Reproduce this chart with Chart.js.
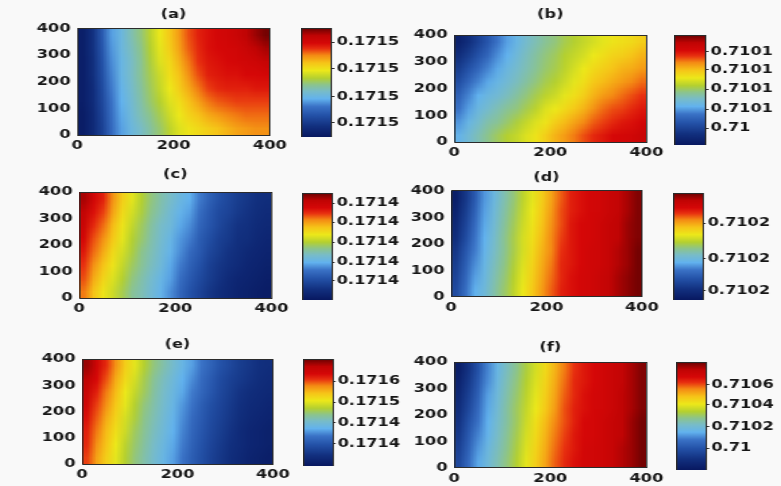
<!DOCTYPE html>
<html>
<head>
<meta charset="utf-8">
<script src="https://cdn.jsdelivr.net/npm/chart.js@4.4.1/dist/chart.umd.min.js"></script>
<style>
  html, body { margin: 0; padding: 0; background: #f9f9f9; }
  #fig { position: relative; width: 781px; height: 486px; overflow: hidden; }
  #fig canvas { position: absolute; }
</style>
</head>
<body>
<div id="fig"></div>
<script>
// cell grid shared by all six panels (x: 0..400, y: 0..400)
const xCenters = [10, 30, 50, 70, 90, 110, 130, 150, 170, 190, 210, 230, 250, 270, 290, 310, 330, 350, 370, 390];
const yEdges = [400, 350, 300, 250, 200, 150, 100, 50, 0];   // rows listed top to bottom

// colour level of each cell in % of the colour bar, rows top -> bottom
const fieldA = [
  [3, 10, 22, 33, 38, 44, 49, 55, 61, 67, 73, 79, 83, 85, 87, 88, 90, 93, 96, 99],
  [3, 10, 21, 32, 38, 43, 48, 54, 60, 66, 72, 78, 82, 85, 86, 87, 88, 90, 93, 95],
  [3, 9, 20, 31, 37, 42, 47, 53, 59, 64, 70, 76, 81, 84, 85, 86, 87, 88, 89, 91],
  [3, 9, 19, 30, 37, 42, 47, 52, 57, 63, 68, 74, 79, 83, 84, 85, 85, 86, 86, 87],
  [3, 8, 18, 29, 36, 41, 46, 51, 56, 61, 66, 71, 76, 80, 82, 83, 83, 83, 84, 84],
  [3, 8, 17, 28, 35, 40, 45, 50, 54, 59, 63, 68, 72, 76, 78, 79, 80, 80, 80, 80],
  [2, 7, 16, 27, 34, 39, 44, 48, 52, 57, 61, 65, 68, 71, 73, 75, 76, 77, 77, 77],
  [2, 7, 15, 26, 33, 38, 42, 46, 50, 55, 59, 62, 64, 66, 68, 70, 72, 73, 74, 74]
];
const fieldB = [
  [4, 9, 15, 21, 28, 33, 37, 41, 44, 47, 49, 52, 54, 56, 58, 60, 62, 63, 64, 66],
  [9, 14, 20, 25, 31, 35, 39, 43, 46, 49, 51, 54, 56, 58, 61, 63, 65, 66, 68, 70],
  [14, 20, 25, 30, 34, 38, 41, 44, 47, 50, 52, 55, 58, 61, 64, 66, 68, 70, 71, 73],
  [19, 25, 30, 34, 37, 40, 43, 46, 49, 52, 54, 57, 60, 63, 67, 69, 71, 73, 75, 77],
  [24, 30, 35, 38, 40, 43, 46, 49, 52, 55, 57, 60, 63, 66, 70, 73, 75, 77, 79, 81],
  [28, 33, 38, 41, 44, 47, 49, 52, 55, 59, 61, 64, 67, 70, 74, 77, 79, 80, 82, 84],
  [32, 37, 41, 45, 47, 50, 53, 56, 59, 62, 66, 69, 72, 75, 78, 80, 82, 84, 85, 87],
  [36, 40, 44, 48, 51, 54, 56, 59, 62, 66, 70, 73, 76, 79, 82, 84, 86, 87, 88, 90]
];
const fieldC = [
  [95, 88, 83, 74, 66, 60, 54, 49, 45, 42, 38, 35, 29, 24, 20, 17, 14, 12, 10, 9],
  [92, 85, 80, 72, 64, 58, 53, 48, 44, 40, 36, 33, 27, 22, 18, 16, 13, 11, 9, 8],
  [90, 82, 77, 69, 62, 56, 51, 46, 42, 39, 34, 31, 25, 21, 17, 14, 11, 10, 8, 7],
  [87, 79, 74, 67, 60, 54, 50, 45, 41, 37, 32, 29, 23, 19, 15, 13, 10, 9, 7, 6],
  [84, 77, 71, 64, 58, 53, 48, 44, 40, 36, 31, 26, 22, 17, 14, 11, 9, 7, 6, 5],
  [81, 74, 68, 62, 56, 51, 47, 43, 39, 34, 29, 24, 20, 15, 12, 10, 8, 6, 5, 4],
  [79, 71, 65, 59, 54, 49, 45, 41, 37, 33, 27, 22, 18, 14, 11, 8, 6, 5, 4, 3],
  [76, 68, 62, 57, 52, 47, 44, 40, 36, 31, 25, 20, 16, 12, 9, 7, 5, 4, 3, 2]
];
const fieldD = [
  [3, 12, 22, 32, 38, 44, 49, 55, 60, 66, 72, 78, 83, 85, 87, 88, 90, 92, 95, 98],
  [5, 14, 24, 33, 39, 45, 50, 56, 61, 67, 73, 79, 83, 85, 87, 88, 90, 92, 95, 98],
  [7, 16, 26, 34, 40, 46, 51, 57, 62, 68, 74, 79, 84, 86, 87, 89, 91, 93, 96, 98],
  [9, 18, 28, 35, 41, 47, 52, 58, 63, 69, 75, 80, 84, 86, 87, 89, 91, 93, 96, 98],
  [12, 21, 29, 36, 42, 47, 52, 58, 64, 70, 75, 81, 84, 86, 88, 89, 91, 94, 96, 99],
  [14, 23, 31, 37, 43, 48, 53, 59, 65, 71, 76, 82, 84, 86, 88, 89, 91, 94, 96, 99],
  [16, 25, 33, 38, 44, 49, 54, 60, 66, 72, 77, 82, 85, 87, 88, 90, 92, 95, 97, 99],
  [18, 27, 35, 39, 45, 50, 55, 61, 67, 73, 78, 83, 85, 87, 88, 90, 92, 95, 97, 99]
];
const fieldE = [
  [96, 89, 82, 74, 66, 60, 54, 49, 45, 41, 37, 33, 28, 24, 20, 17, 14, 12, 10, 9],
  [93, 86, 79, 71, 64, 58, 52, 47, 43, 39, 35, 31, 26, 22, 18, 15, 13, 11, 9, 8],
  [90, 83, 76, 69, 61, 56, 51, 46, 42, 38, 34, 29, 25, 21, 17, 14, 11, 9, 8, 7],
  [88, 80, 74, 67, 60, 54, 49, 45, 41, 37, 32, 28, 23, 19, 16, 13, 10, 8, 7, 6],
  [85, 78, 71, 65, 58, 53, 48, 44, 40, 36, 31, 26, 22, 18, 15, 12, 9, 7, 6, 5],
  [83, 76, 69, 63, 57, 51, 47, 43, 39, 35, 30, 25, 21, 17, 14, 11, 8, 6, 5, 4],
  [82, 74, 68, 61, 55, 50, 46, 42, 38, 34, 29, 24, 20, 16, 13, 10, 8, 6, 5, 4],
  [80, 72, 66, 60, 54, 49, 45, 41, 37, 33, 28, 23, 19, 15, 12, 9, 7, 5, 4, 3]
];
const fieldF = [
  [3, 11, 20, 30, 37, 43, 48, 53, 58, 64, 70, 76, 81, 84, 86, 88, 90, 92, 95, 98],
  [5, 13, 22, 31, 38, 44, 49, 54, 59, 65, 71, 77, 82, 84, 86, 88, 90, 92, 95, 98],
  [7, 15, 24, 33, 39, 45, 50, 55, 60, 66, 72, 78, 82, 85, 87, 88, 90, 93, 95, 98],
  [9, 17, 26, 34, 40, 46, 51, 56, 61, 67, 73, 79, 83, 85, 87, 88, 90, 93, 95, 98],
  [11, 20, 28, 35, 41, 46, 51, 57, 63, 69, 75, 79, 83, 86, 87, 89, 91, 93, 96, 99],
  [13, 22, 30, 36, 42, 47, 52, 58, 64, 70, 76, 80, 84, 86, 87, 89, 91, 93, 96, 99],
  [15, 24, 32, 38, 43, 48, 53, 59, 65, 71, 77, 81, 84, 87, 88, 89, 91, 94, 96, 99],
  [17, 26, 34, 39, 44, 49, 54, 60, 66, 72, 78, 82, 85, 87, 88, 89, 91, 94, 96, 99]
];

const panelTitles = ['(a)', '(b)', '(c)', '(d)', '(e)', '(f)'];
const xTicks = [0, 200, 400];
const yTicks = [0, 100, 200, 300, 400];

// colour bar ticks: position along the bar (0 bottom, 1 top) and label
const cbTicksA = [0.869, 0.624, 0.37, 0.131];
const cbLabelsA = ['0.1715', '0.1715', '0.1715', '0.1715'];
const cbTicksB = [0.848, 0.682, 0.506, 0.325, 0.152];
const cbLabelsB = ['0.7101', '0.7101', '0.7101', '0.7101', '0.71'];
const cbTicksC = [0.906, 0.728, 0.54, 0.353, 0.181];
const cbLabelsC = ['0.1714', '0.1714', '0.1714', '0.1714', '0.1714'];
const cbTicksD = [0.719, 0.385, 0.088];
const cbLabelsD = ['0.7102', '0.7102', '0.7102'];
const cbTicksE = [0.794, 0.598, 0.402, 0.206];
const cbLabelsE = ['0.1716', '0.1715', '0.1714', '0.1714'];
const cbTicksF = [0.789, 0.604, 0.403, 0.201];
const cbLabelsF = ['0.7106', '0.7104', '0.7102', '0.71'];

// ---- styling / layout ----
const jetStops = [
  [0.00, '#081860'], [0.10, '#12307f'], [0.20, '#2452a8'], [0.28, '#3a72c6'],
  [0.35, '#62b2ee'], [0.42, '#78bcc8'], [0.48, '#8cc48c'], [0.54, '#b4d030'],
  [0.61, '#ece81a'], [0.68, '#f6c418'], [0.75, '#f48a14'], [0.81, '#e83010'],
  [0.86, '#d60808'], [0.93, '#c00404'], [1.00, '#680202']
];

const panelBoxes = [
  { plot: [77.5, 28.3, 270, 135], titleY: 15, cbar: [300.5, 28, 331.5, 137] },
  { plot: [454, 35, 646, 142], titleY: 15, cbar: [673.5, 35, 705.7, 145] },
  { plot: [79, 192, 271, 298], titleY: 175, cbar: [301.7, 192.7, 331.7, 299.3] },
  { plot: [451, 191, 642, 297], titleY: 178.3, cbar: [672.7, 192.7, 702.7, 299.3] },
  { plot: [82, 359, 273, 464], titleY: 345, cbar: [302.7, 359, 332.7, 466] },
  { plot: [454, 362.3, 646, 468], titleY: 348.3, cbar: [676, 362.3, 706.7, 470] }
];

const S = 1.35;          // the source figure is stretched horizontally
const FONT = 'DejaVu Sans';
const TEXT = '#161616';
const FRAME = '#2b2b2b';
const tickFont = { family: FONT, size: 12, weight: 'bold' };
const titleFont = { family: FONT, size: 12, weight: 'bold', lineHeight: 1.2 };

function hexRgb(h) {
  return [parseInt(h.slice(1, 3), 16), parseInt(h.slice(3, 5), 16), parseInt(h.slice(5, 7), 16)];
}

function cmap(t) {
  t = Math.max(0, Math.min(1, t));
  for (let i = 1; i < jetStops.length; i++) {
    if (t <= jetStops[i][0]) {
      const [p0, c0] = jetStops[i - 1];
      const [p1, c1] = jetStops[i];
      const f = (t - p0) / (p1 - p0);
      const a = hexRgb(c0), b = hexRgb(c1);
      const rgb = a.map((v, k) => Math.round(v + (b[k] - v) * f));
      return `rgb(${rgb[0]},${rgb[1]},${rgb[2]})`;
    }
  }
  return jetStops[jetStops.length - 1][1];
}

// canvas whose bitmap is w x h, shown at cssW x cssH
function addCanvas(left, top, w, h, cssW, cssH) {
  const c = document.createElement('canvas');
  c.width = w;
  c.height = h;
  c.style.left = left + 'px';
  c.style.top = top + 'px';
  c.style.width = cssW + 'px';
  c.style.height = cssH + 'px';
  document.getElementById('fig').appendChild(c);
  return c;
}

const frameBorder = { display: true, color: FRAME, width: 1, z: 1 };
const hiddenAxis = (position, fit) => ({
  type: 'linear', position: position, display: true,
  ticks: { display: false }, grid: { display: false, drawTicks: false },
  border: frameBorder, afterFit: fit
});

// the cells: one bitmap pixel per cell, smoothed by the browser when shown at plot size
function drawCells(box, field) {
  const [pl, pt, pr, pb] = box.plot;
  const canvas = addCanvas(pl, pt, xCenters.length, field.length, pr - pl, pb - pt);
  new Chart(canvas, {
    type: 'bar',
    data: {
      datasets: field.map((row, r) => ({
        data: row.map((v, c) => ({ x: xCenters[c], y: [yEdges[r + 1], yEdges[r]] })),
        backgroundColor: row.map(v => cmap(v / 100)),
        borderWidth: 0,
        inflateAmount: 0,
        grouped: false,
        barPercentage: 1,
        categoryPercentage: 1
      }))
    },
    options: {
      responsive: false,
      animation: false,
      events: [],
      layout: { padding: 0 },
      plugins: { legend: { display: false }, tooltip: { enabled: false }, title: { display: false } },
      scales: {
        x: { type: 'linear', min: 0, max: 400, offset: false, display: false },
        y: { type: 'linear', min: 0, max: 400, display: false }
      }
    }
  });
}

// axes, tick labels, frame and panel title on top of the cells
function drawAxes(box, title) {
  const YW = 32, TP = 2;
  const [pl, pt, pr, pb] = box.plot;
  const plotWv = (pr - pl) / S;
  const W = Math.ceil(YW + plotWv + 16);
  const PR = W - YW - plotWv;
  const lh = titleFont.size * titleFont.lineHeight;
  const top = box.titleY - TP - lh / 2;
  const TB = pt - box.titleY - lh / 2;
  const H = Math.ceil(pb - top + 22);
  const XH = H - (pb - top);
  const canvas = addCanvas(pl - YW * S, top, W, H, W * S, H);

  new Chart(canvas, {
    type: 'scatter',
    data: { datasets: [] },
    options: {
      responsive: false,
      animation: false,
      events: [],
      layout: { padding: { left: 0, top: 0, right: PR, bottom: 0 } },
      plugins: {
        legend: { display: false },
        tooltip: { enabled: false },
        title: {
          display: true, text: title, fullSize: false, color: TEXT,
          font: titleFont, padding: { top: TP, bottom: TB }
        }
      },
      scales: {
        x: {
          type: 'linear', min: 0, max: 400,
          afterBuildTicks: s => { s.ticks = xTicks.map(v => ({ value: v })); },
          ticks: { color: TEXT, font: tickFont, padding: 3.5, maxRotation: 0, autoSkip: false },
          grid: { display: false, drawTicks: false },
          border: frameBorder,
          afterFit: s => { s.height = XH; s.paddingLeft = 0; s.paddingRight = 0; }
        },
        y: {
          type: 'linear', min: 0, max: 400,
          afterBuildTicks: s => { s.ticks = yTicks.map(v => ({ value: v })); },
          ticks: { color: TEXT, font: tickFont, padding: 5, autoSkip: false },
          grid: { display: false, drawTicks: false },
          border: frameBorder,
          afterFit: s => { s.width = YW; s.paddingTop = 0; s.paddingBottom = 0; }
        },
        xTop: hiddenAxis('top', s => { s.height = 0; }),
        yRight: hiddenAxis('right', s => { s.width = 0; })
      }
    }
  });
}

function drawColorbar(box, ticks, labels) {
  const [cl, ct, cr, cb] = box.cbar;
  const barWv = (cr - cl) / S;
  const W = Math.ceil(barWv + 52);
  const AW = W - barWv;
  const H = Math.round(cb - ct);
  const canvas = addCanvas(cl, ct, W, H, W * S, H);

  new Chart(canvas, {
    type: 'bar',
    data: {
      labels: ['cb'],
      datasets: [{
        data: [[0, 1]],
        borderWidth: 0,
        barPercentage: 1,
        categoryPercentage: 1,
        backgroundColor: (ctx) => {
          const area = ctx.chart.chartArea;
          if (!area) return '#888';
          const g = ctx.chart.ctx.createLinearGradient(0, area.bottom, 0, area.top);
          jetStops.forEach(([p, c]) => g.addColorStop(p, c));
          return g;
        }
      }]
    },
    options: {
      responsive: false,
      animation: false,
      events: [],
      layout: { padding: 0 },
      plugins: { legend: { display: false }, tooltip: { enabled: false }, title: { display: false } },
      scales: {
        x: {
          type: 'category', display: true,
          ticks: { display: false }, grid: { display: false, drawTicks: false },
          border: frameBorder,
          afterFit: s => { s.height = 0; }
        },
        y: {
          type: 'linear', position: 'right', min: 0, max: 1,
          afterBuildTicks: s => { s.ticks = ticks.map(v => ({ value: v })); },
          ticks: {
            color: TEXT, font: tickFont, padding: 1.5, autoSkip: false,
            callback: (v, i) => labels[i]
          },
          grid: { display: true, drawOnChartArea: false, drawTicks: true, tickLength: 2, color: FRAME, lineWidth: 1 },
          border: frameBorder,
          afterFit: s => { s.width = AW; s.paddingTop = 0; s.paddingBottom = 0; }
        },
        xTop: hiddenAxis('top', s => { s.height = 0; }),
        yLeft: hiddenAxis('left', s => { s.width = 0; })
      }
    }
  });
}

const fields = [fieldA, fieldB, fieldC, fieldD, fieldE, fieldF];
const cbTicks = [cbTicksA, cbTicksB, cbTicksC, cbTicksD, cbTicksE, cbTicksF];
const cbLabels = [cbLabelsA, cbLabelsB, cbLabelsC, cbLabelsD, cbLabelsE, cbLabelsF];

panelBoxes.forEach((box, i) => {
  drawCells(box, fields[i]);
  drawAxes(box, panelTitles[i]);
  drawColorbar(box, cbTicks[i], cbLabels[i]);
});
</script>
</body>
</html>
